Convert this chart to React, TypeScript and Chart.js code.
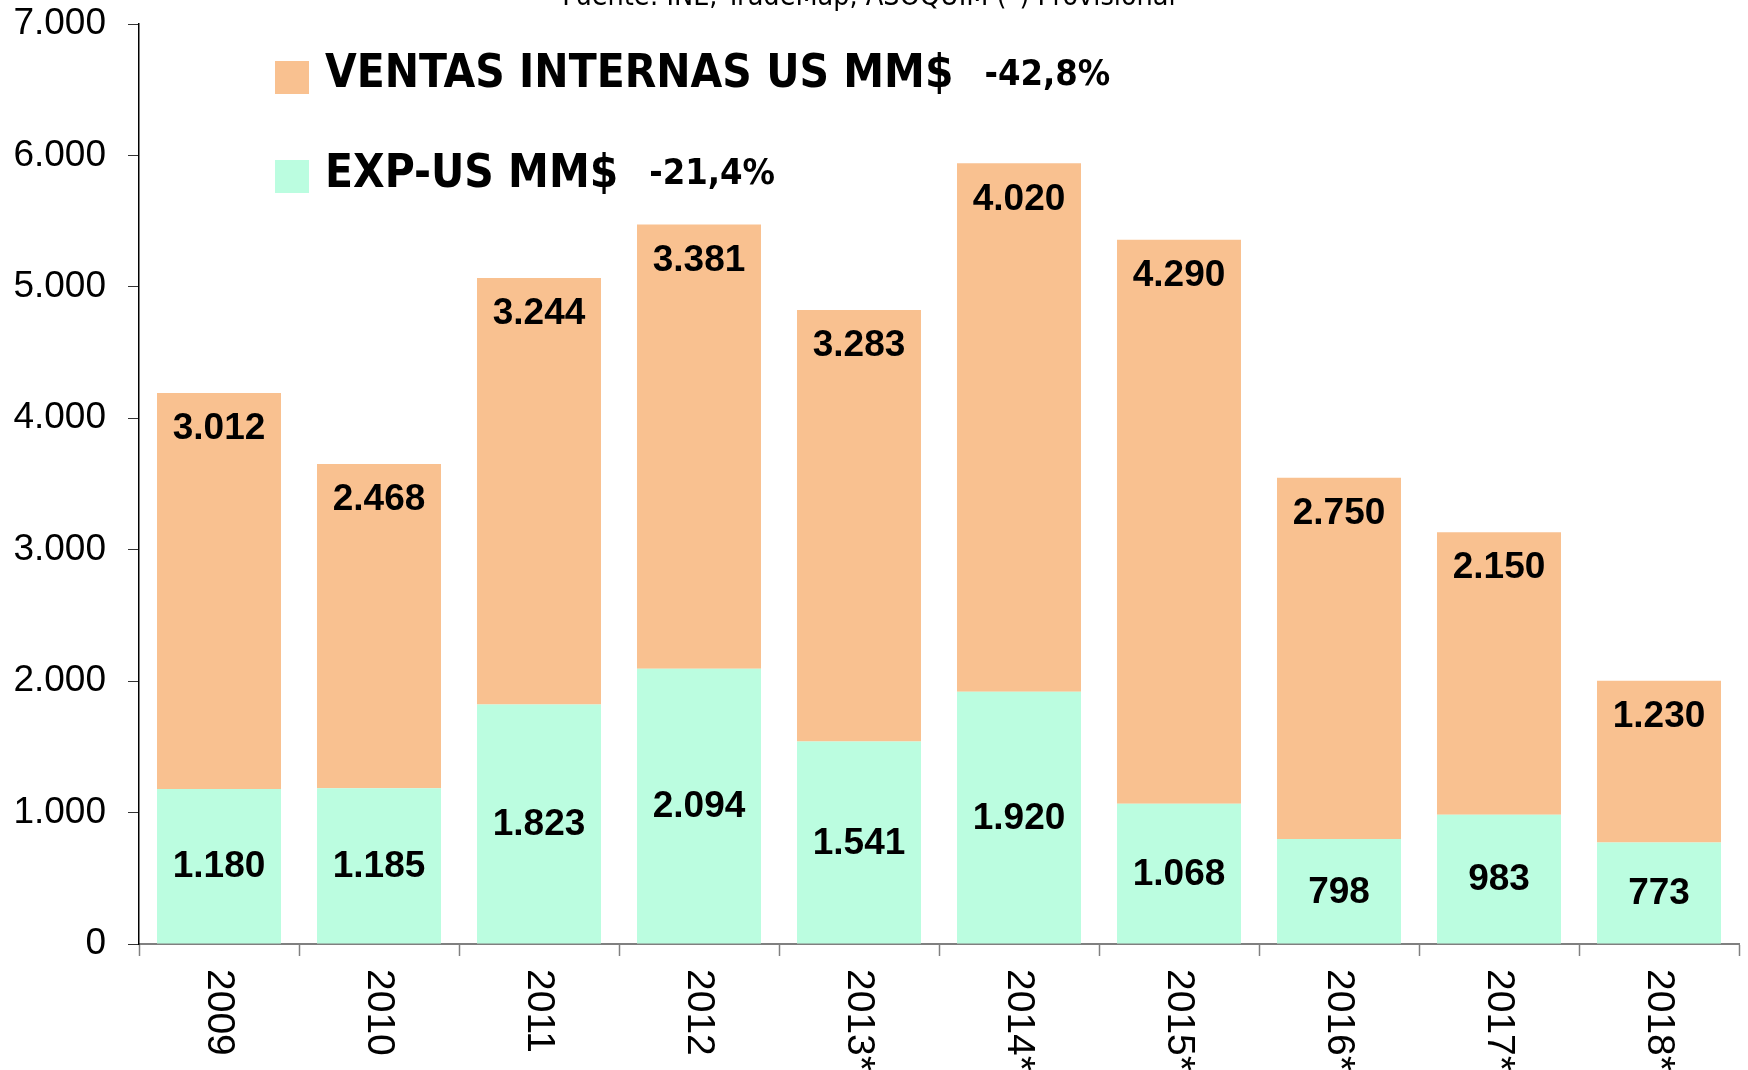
import React, { useEffect, useRef } from "react";
import { Chart, registerables } from "chart.js";

Chart.register(...registerables);

const categories = ["2009", "2010", "2011", "2012", "2013*", "2014*", "2015*", "2016*", "2017*", "2018*"];
const expValues = [1180, 1185, 1823, 2094, 1541, 1920, 1068, 798, 983, 773];
const ventasValues = [3012, 2468, 3244, 3381, 3283, 4020, 4290, 2750, 2150, 1230];
const seriesNames = ["EXP-US MM$", "VENTAS INTERNAS US MM$"];
const seriesChanges = ["-21,4%", "-42,8%"];
const seriesColors = ["#BBFDE0", "#F9C190"];
const yMin = 0;
const yMax = 7000;
const yStep = 1000;
const sourceNote = "Fuente: INE, TradeMap, ASOQUIM (*) Provisional";

const fmt = (v: number) => String(Math.round(v)).replace(/\B(?=(\d{3})+(?!\d))/g, ".");

const overlayPlugin = {
  id: "overlay",
  afterDraw(chart: any) {
    const ctx = chart.ctx;
    ctx.save();
    // bar value labels
    ctx.fillStyle = "#000";
    ctx.textAlign = "center";
    ctx.textBaseline = "middle";
    ctx.font = 'bold 37px "Liberation Sans", Arial, sans-serif';
    chart.data.datasets.forEach((ds: any, di: number) => {
      const meta = chart.getDatasetMeta(di);
      meta.data.forEach((bar: any, i: number) => {
        const p = bar.getProps(["x", "y", "base"], true);
        const ty = di === 0 ? (p.y + p.base) / 2 : p.y + 35;
        ctx.fillText(fmt(ds.data[i]), p.x, ty + 1);
      });
    });
    // rotated category labels
    const xs = chart.scales.x;
    ctx.font = '39px "Liberation Sans", Arial, sans-serif';
    ctx.textAlign = "left";
    ctx.textBaseline = "middle";
    categories.forEach((c, i) => {
      const px = xs.getPixelForValue(i);
      ctx.save();
      ctx.translate(px, xs.top + 25);
      ctx.rotate(Math.PI / 2);
      ctx.fillText(c, 0, 0);
      ctx.restore();
    });
    // legend (top row = VENTAS, second row = EXP)
    const rows = [
      { di: 1, base: 87, sq: 61, pctBase: 85 },
      { di: 0, base: 187, sq: 160, pctBase: 184 },
    ];
    const sx = 0.97;
    rows.forEach((r) => {
      ctx.fillStyle = seriesColors[r.di];
      ctx.fillRect(275, r.sq, 34, 33);
      ctx.fillStyle = "#000";
      ctx.textAlign = "left";
      ctx.textBaseline = "alphabetic";
      ctx.font = 'bold 47px "DejaVu Sans Condensed", "DejaVu Sans", sans-serif';
      const w = ctx.measureText(seriesNames[r.di]).width * sx;
      ctx.save();
      ctx.translate(325, r.base);
      ctx.scale(sx, 1);
      ctx.fillText(seriesNames[r.di], 0, 0);
      ctx.restore();
      ctx.font = 'bold 36px "DejaVu Sans Condensed", "DejaVu Sans", sans-serif';
      ctx.fillText(seriesChanges[r.di], 325 + w + 31, r.pctBase);
    });
    // source note (cut off at top)
    ctx.font = '28.5px "DejaVu Sans Condensed", "DejaVu Sans", sans-serif';
    ctx.textAlign = "center";
    ctx.textBaseline = "alphabetic";
    ctx.fillText(sourceNote, 869, 5);
    ctx.restore();
  },
};

export default function App() {
  const ref = useRef<HTMLCanvasElement>(null);
  useEffect(() => {
    const chart = new Chart(ref.current as HTMLCanvasElement, {
      type: "bar",
      data: {
        labels: categories,
        datasets: [
          { label: seriesNames[0], data: expValues, backgroundColor: seriesColors[0], borderWidth: 0 },
          { label: seriesNames[1], data: ventasValues, backgroundColor: seriesColors[1], borderWidth: 0 },
        ],
      },
      options: {
        animation: false,
        responsive: false,
        layout: { padding: { top: 24, right: 9, left: 0, bottom: 0 } },
        plugins: { legend: { display: false }, tooltip: { enabled: false }, title: { display: false } },
        datasets: { bar: { categoryPercentage: 1, barPercentage: 0.775 } },
        scales: {
          x: {
            stacked: true,
            offset: true,
            grid: { offset: true, drawOnChartArea: false, drawTicks: true, tickLength: 12, tickColor: "#808080", tickWidth: 1.5 },
            border: { display: true, color: "#808080", width: 2 },
            ticks: { display: false },
            afterFit: (s: any) => {
              s.height = 126;
              s.paddingLeft = 0;
              s.paddingRight = 0;
            },
          },
          y: {
            stacked: true,
            min: yMin,
            max: yMax,
            grid: { drawOnChartArea: false, drawTicks: true, tickLength: 11, tickColor: "#333", tickWidth: 1 },
            border: { display: true, color: "#000", width: 1.5 },
            ticks: {
              stepSize: yStep,
              padding: 22,
              color: "#000",
              font: { family: '"Liberation Sans", Arial, sans-serif', size: 37 },
              callback: (v: any) => fmt(Number(v)),
            },
            afterFit: (s: any) => {
              s.width = 139;
              s.paddingTop = 0;
              s.paddingBottom = 0;
            },
          },
        },
      },
      plugins: [overlayPlugin],
    });
    return () => chart.destroy();
  }, []);
  return (
    <div style={{ position: "fixed", left: 0, top: 0, width: 1748, height: 1070, background: "#fff" }}>
      <canvas ref={ref} width={1748} height={1070} style={{ display: "block" }} />
    </div>
  );
}
